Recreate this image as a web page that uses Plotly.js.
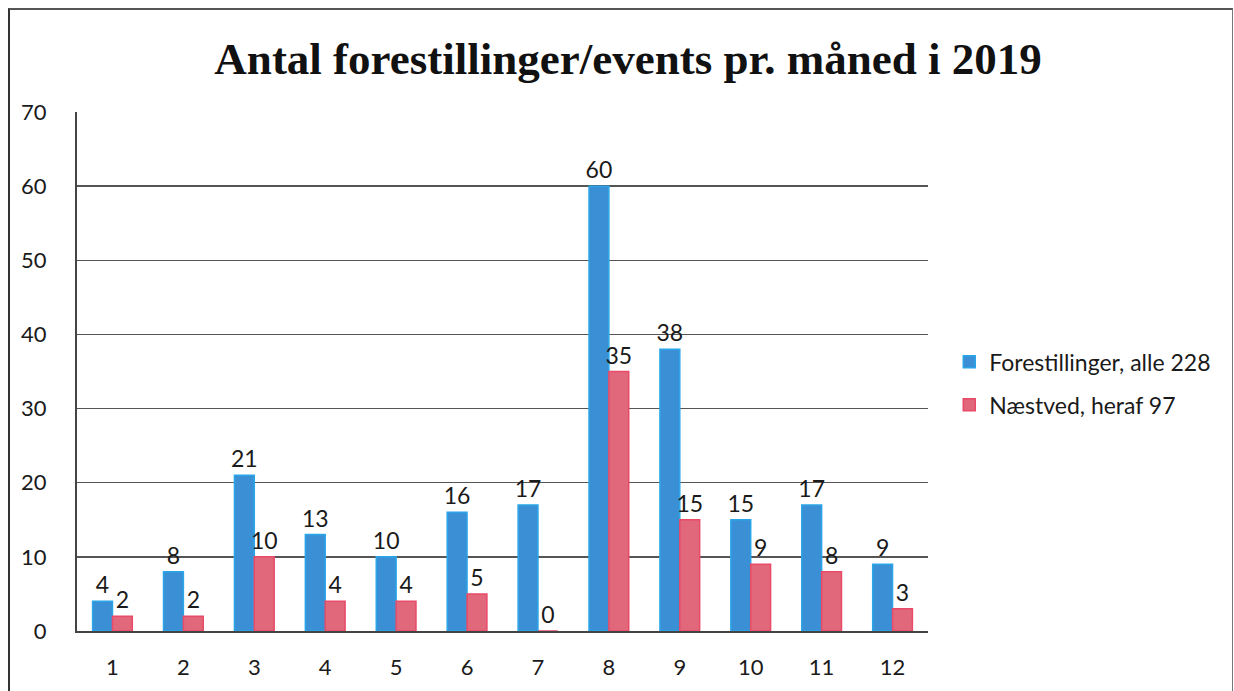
<!DOCTYPE html>
<html>
<head>
<meta charset="utf-8">
<script src="https://cdn.plot.ly/plotly-3.0.1.min.js"></script>
<style>
  html, body { margin: 0; padding: 0; background: #fff; }
  #chart { position: absolute; left: 0; top: 0; width: 1234px; height: 691px; }
  #frame { position: absolute; left: 8px; top: 8px; width: 1222px; height: 700px;
           border-left: 2px solid #333; border-top: 2px solid #555; border-right: 1px solid #777; pointer-events: none; }
</style>
</head>
<body>
<div id="chart"></div>
<div id="frame"></div>
<script>
const months = ["1","2","3","4","5","6","7","8","9","10","11","12"];
const forestillinger = [4, 8, 21, 13, 10, 16, 17, 60, 38, 15, 17, 9];
const naestved = [2, 2, 10, 4, 4, 5, 0, 35, 15, 9, 8, 3];
const seriesNames = ["Forestillinger, alle 228", "Næstved, heraf 97"];
const yTicks = [0, 10, 20, 30, 40, 50, 60, 70];

const labelFont = { family: "Lato, 'Open Sans', sans-serif", size: 23, color: "#1a1a1a" };

const traces = [
  {
    type: "bar", x: months, y: forestillinger, name: seriesNames[0],
    legendgroup: "a",
    marker: { color: "#3b8fd4", line: { color: "#2aa6e8", width: 1.5 } },
    text: forestillinger.map(String), textposition: "outside", cliponaxis: false,
    constraintext: "none", textfont: labelFont, hoverinfo: "x+y"
  },
  {
    type: "bar", x: months, y: naestved, name: seriesNames[1],
    legendgroup: "b",
    marker: { color: "#e0687a", line: { color: "#e84a68", width: 1.5 } },
    text: naestved.map(String), textposition: "outside", cliponaxis: false,
    constraintext: "none", textfont: labelFont, hoverinfo: "x+y"
  }
];

const layout = {
  width: 1234, height: 691,
  paper_bgcolor: "#fff", plot_bgcolor: "#fff",
  margin: { l: 77, r: 306, t: 112, b: 60 },
  title: {
    text: "<b>Antal forestillinger/events pr. måned i 2019</b>",
    font: { family: "'Liberation Serif', 'DejaVu Serif', serif", size: 45, color: "#111" },
    x: 0.509, xanchor: "center", y: 0.915, yanchor: "middle"
  },
  barmode: "group", bargap: 0.44, bargroupgap: 0,
  xaxis: {
    type: "category",
    tickfont: { family: "Lato, 'Open Sans', sans-serif", size: 22, color: "#1a1a1a" },
    ticks: "", ticklabelstandoff: 16,
    showline: true, linecolor: "#444", linewidth: 2,
    showgrid: false, zeroline: false, fixedrange: true
  },
  yaxis: {
    range: [0, 70], tickvals: yTicks,
    tickfont: { family: "Lato, 'Open Sans', sans-serif", size: 22, color: "#1a1a1a" },
    ticks: "", ticklabelstandoff: 24,
    showline: true, linecolor: "#444", linewidth: 2,
    showgrid: true, gridcolor: "#555", gridwidth: 1.5,
    zeroline: false, fixedrange: true
  },
  legend: {
    x: 1.025, xanchor: "left", y: 0.56, yanchor: "top",
    font: { family: "Lato, 'Open Sans', sans-serif", size: 23, color: "#1a1a1a" },
    tracegroupgap: 10, traceorder: "grouped", itemwidth: 30,
    bgcolor: "rgba(0,0,0,0)"
  },
  showlegend: true
};

Plotly.newPlot("chart", traces, layout, { displayModeBar: false, staticPlot: true });
</script>
</body>
</html>
